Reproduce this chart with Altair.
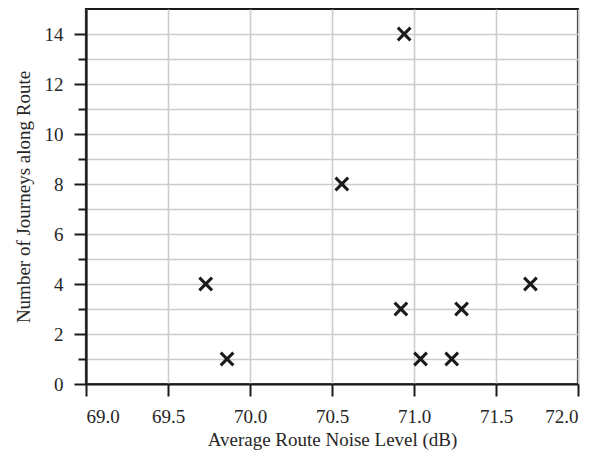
import altair as alt
import pandas as pd

noise_db = [69.73, 69.86, 70.56, 70.94, 70.92, 71.04, 71.23, 71.29, 71.71]
journeys = [4, 1, 8, 14, 3, 1, 1, 3, 4]

x_ticks = [69.0, 69.5, 70.0, 70.5, 71.0, 71.5, 72.0]
y_ticks = list(range(0, 15))

df = pd.DataFrame({"noise": noise_db, "journeys": journeys})

FONT = "Liberation Serif"
TEXT = "#262626"

chart = alt.Chart(df).mark_point(
    shape="M-1,-1L1,1M-1,1L1,-1",
    filled=False,
    stroke="#1a1a1a",
    strokeWidth=3,
    size=160,
    opacity=1,
).encode(
    x=alt.X(
        "noise:Q",
        scale=alt.Scale(domain=[69.0, 72.0], nice=False, zero=False),
        axis=alt.Axis(
            title="Average Route Noise Level (dB)",
            values=x_ticks,
            format=".1f",
            tickSize=12,
            tickWidth=2,
            labelPadding=11,
            titlePadding=4,
        ),
    ),
    y=alt.Y(
        "journeys:Q",
        scale=alt.Scale(domain=[0, 15], nice=False),
        axis=alt.Axis(
            title="Number of Journeys along Route",
            values=y_ticks,
            labelExpr="datum.value % 2 == 0 ? datum.label : ''",
            tickSize={"condition": {"test": "datum.value % 2 == 1", "value": 8}, "value": 12},
            tickWidth=2,
            labelPadding=11,
            titlePadding=11,
        ),
    ),
).properties(
    width=492,
    height=375,
    background="white",
    autosize=alt.AutoSizeParams(type="none"),
    padding={"left": 78, "top": 1, "right": 13, "bottom": 67},
).configure_axis(
    labelFont=FONT,
    titleFont=FONT,
    labelFontSize=19,
    titleFontSize=19,
    titleFontWeight="normal",
    labelColor=TEXT,
    titleColor=TEXT,
    domainColor="#1a1a1a",
    domainWidth=2.2,
    tickColor="#1a1a1a",
    gridColor="#cccccc",
    gridWidth=1.6,
    gridOpacity=1,
).configure_view(
    stroke="#1a1a1a",
    strokeWidth=2.2,
)

chart.save("out.html", embed_options={"renderer": "svg", "actions": False})
